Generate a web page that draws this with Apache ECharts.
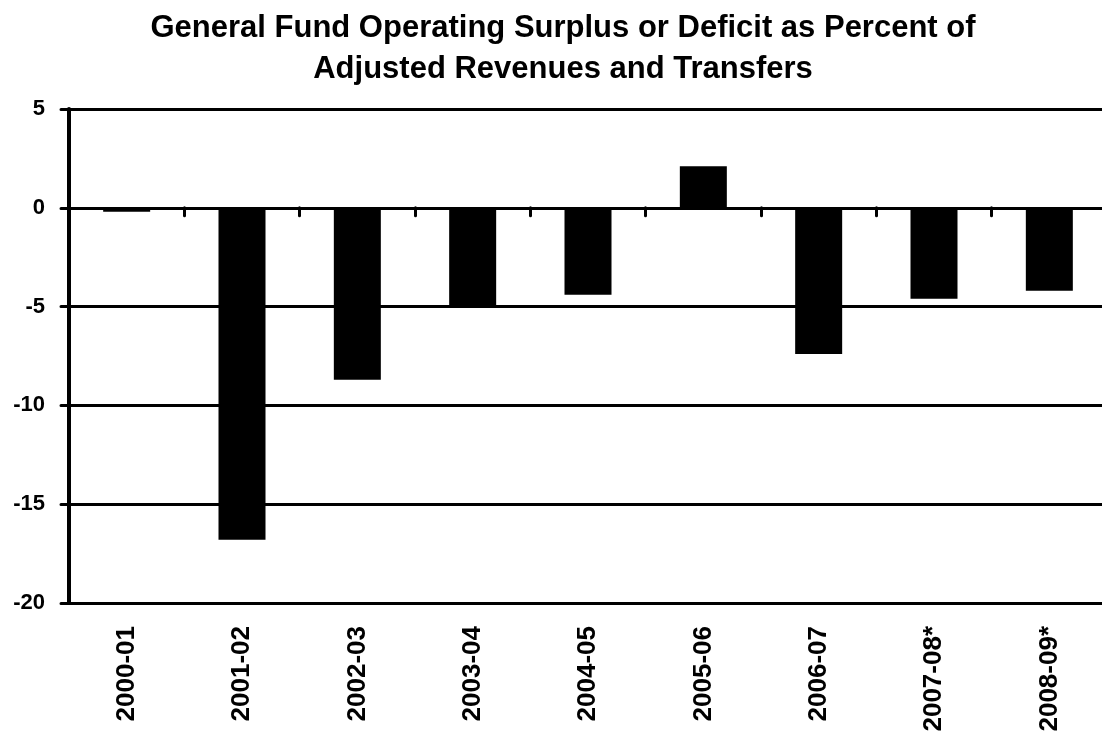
<!DOCTYPE html>
<html>
<head>
<meta charset="utf-8">
<script src="https://cdn.jsdelivr.net/npm/echarts@6/dist/echarts.min.js"></script>
<style>
  html, body { margin: 0; padding: 0; background: #fff; }
  #chart { width: 1102px; height: 736px; }
</style>
</head>
<body>
<div id="chart"></div>
<script>
// fiscal years along the bottom
const years = ['2000-01', '2001-02', '2002-03', '2003-04', '2004-05', '2005-06', '2006-07', '2007-08*', '2008-09*']
// surplus (+) or deficit (-), percent of adjusted revenues and transfers
const percents = [-0.2, -16.8, -8.7, -5.0, -4.4, 2.1, -7.4, -4.6, -4.2]
const yTicks = [5, 0, -5, -10, -15, -20]

const myChart = echarts.init(document.getElementById('chart'))

const option = {
  backgroundColor: '#fff',
  animation: false,
  title: {
    text: 'General Fund Operating Surplus or Deficit as Percent of\nAdjusted Revenues and Transfers',
    left: 558,
    top: 3,
    textAlign: 'center',
    textStyle: {
      fontFamily: 'Liberation Sans, Arial, sans-serif',
      fontSize: 31,
      fontWeight: 'bold',
      color: '#000',
      lineHeight: 41
    }
  },
  grid: {
    left: 69,
    right: -5,
    top: 109,
    bottom: 133,
    containLabel: false,
    outerBoundsMode: 'none'
  },
  xAxis: [
    {
      // labels under the -20 line
      type: 'category',
      data: years,
      position: 'bottom',
      axisLine: { show: false, onZero: false },
      axisTick: { show: false },
      axisLabel: {
        rotate: 90,
        margin: 23,
        interval: 0,
        fontFamily: 'Liberation Sans, Arial, sans-serif',
        fontSize: 26,
        fontWeight: 'bold',
        color: '#000'
      }
    },
    {
      // tick marks hanging from the zero line
      type: 'category',
      data: years,
      position: 'bottom',
      axisLine: {
        show: true,
        onZero: true,
        onZeroAxisIndex: 0,
        lineStyle: { color: '#000', width: 3 }
      },
      axisTick: {
        show: true,
        inside: false,
        length: 8,
        lineStyle: { color: '#000', width: 3, cap: 'round' }
      },
      axisLabel: { show: false },
      splitLine: { show: false }
    }
  ],
  yAxis: {
    type: 'value',
    min: -20,
    max: 5,
    interval: 5,
    axisLine: {
      show: true,
      onZero: false,
      lineStyle: { color: '#000', width: 4 }
    },
    axisTick: {
      show: true,
      length: 8,
      lineStyle: { color: '#000', width: 3, cap: 'round' }
    },
    axisLabel: {
      margin: 24,
      fontFamily: 'Liberation Sans, Arial, sans-serif',
      fontSize: 22,
      fontWeight: 'bold',
      color: '#000',
      formatter: v => (yTicks.indexOf(v) >= 0 ? String(v) : '')
    },
    splitLine: {
      show: true,
      lineStyle: { color: '#000', width: 3 }
    }
  },
  series: [
    {
      type: 'bar',
      xAxisIndex: 0,
      data: percents,
      barWidth: 47,
      itemStyle: { color: '#000' }
    }
  ]
}

myChart.setOption(option)
</script>
</body>
</html>
